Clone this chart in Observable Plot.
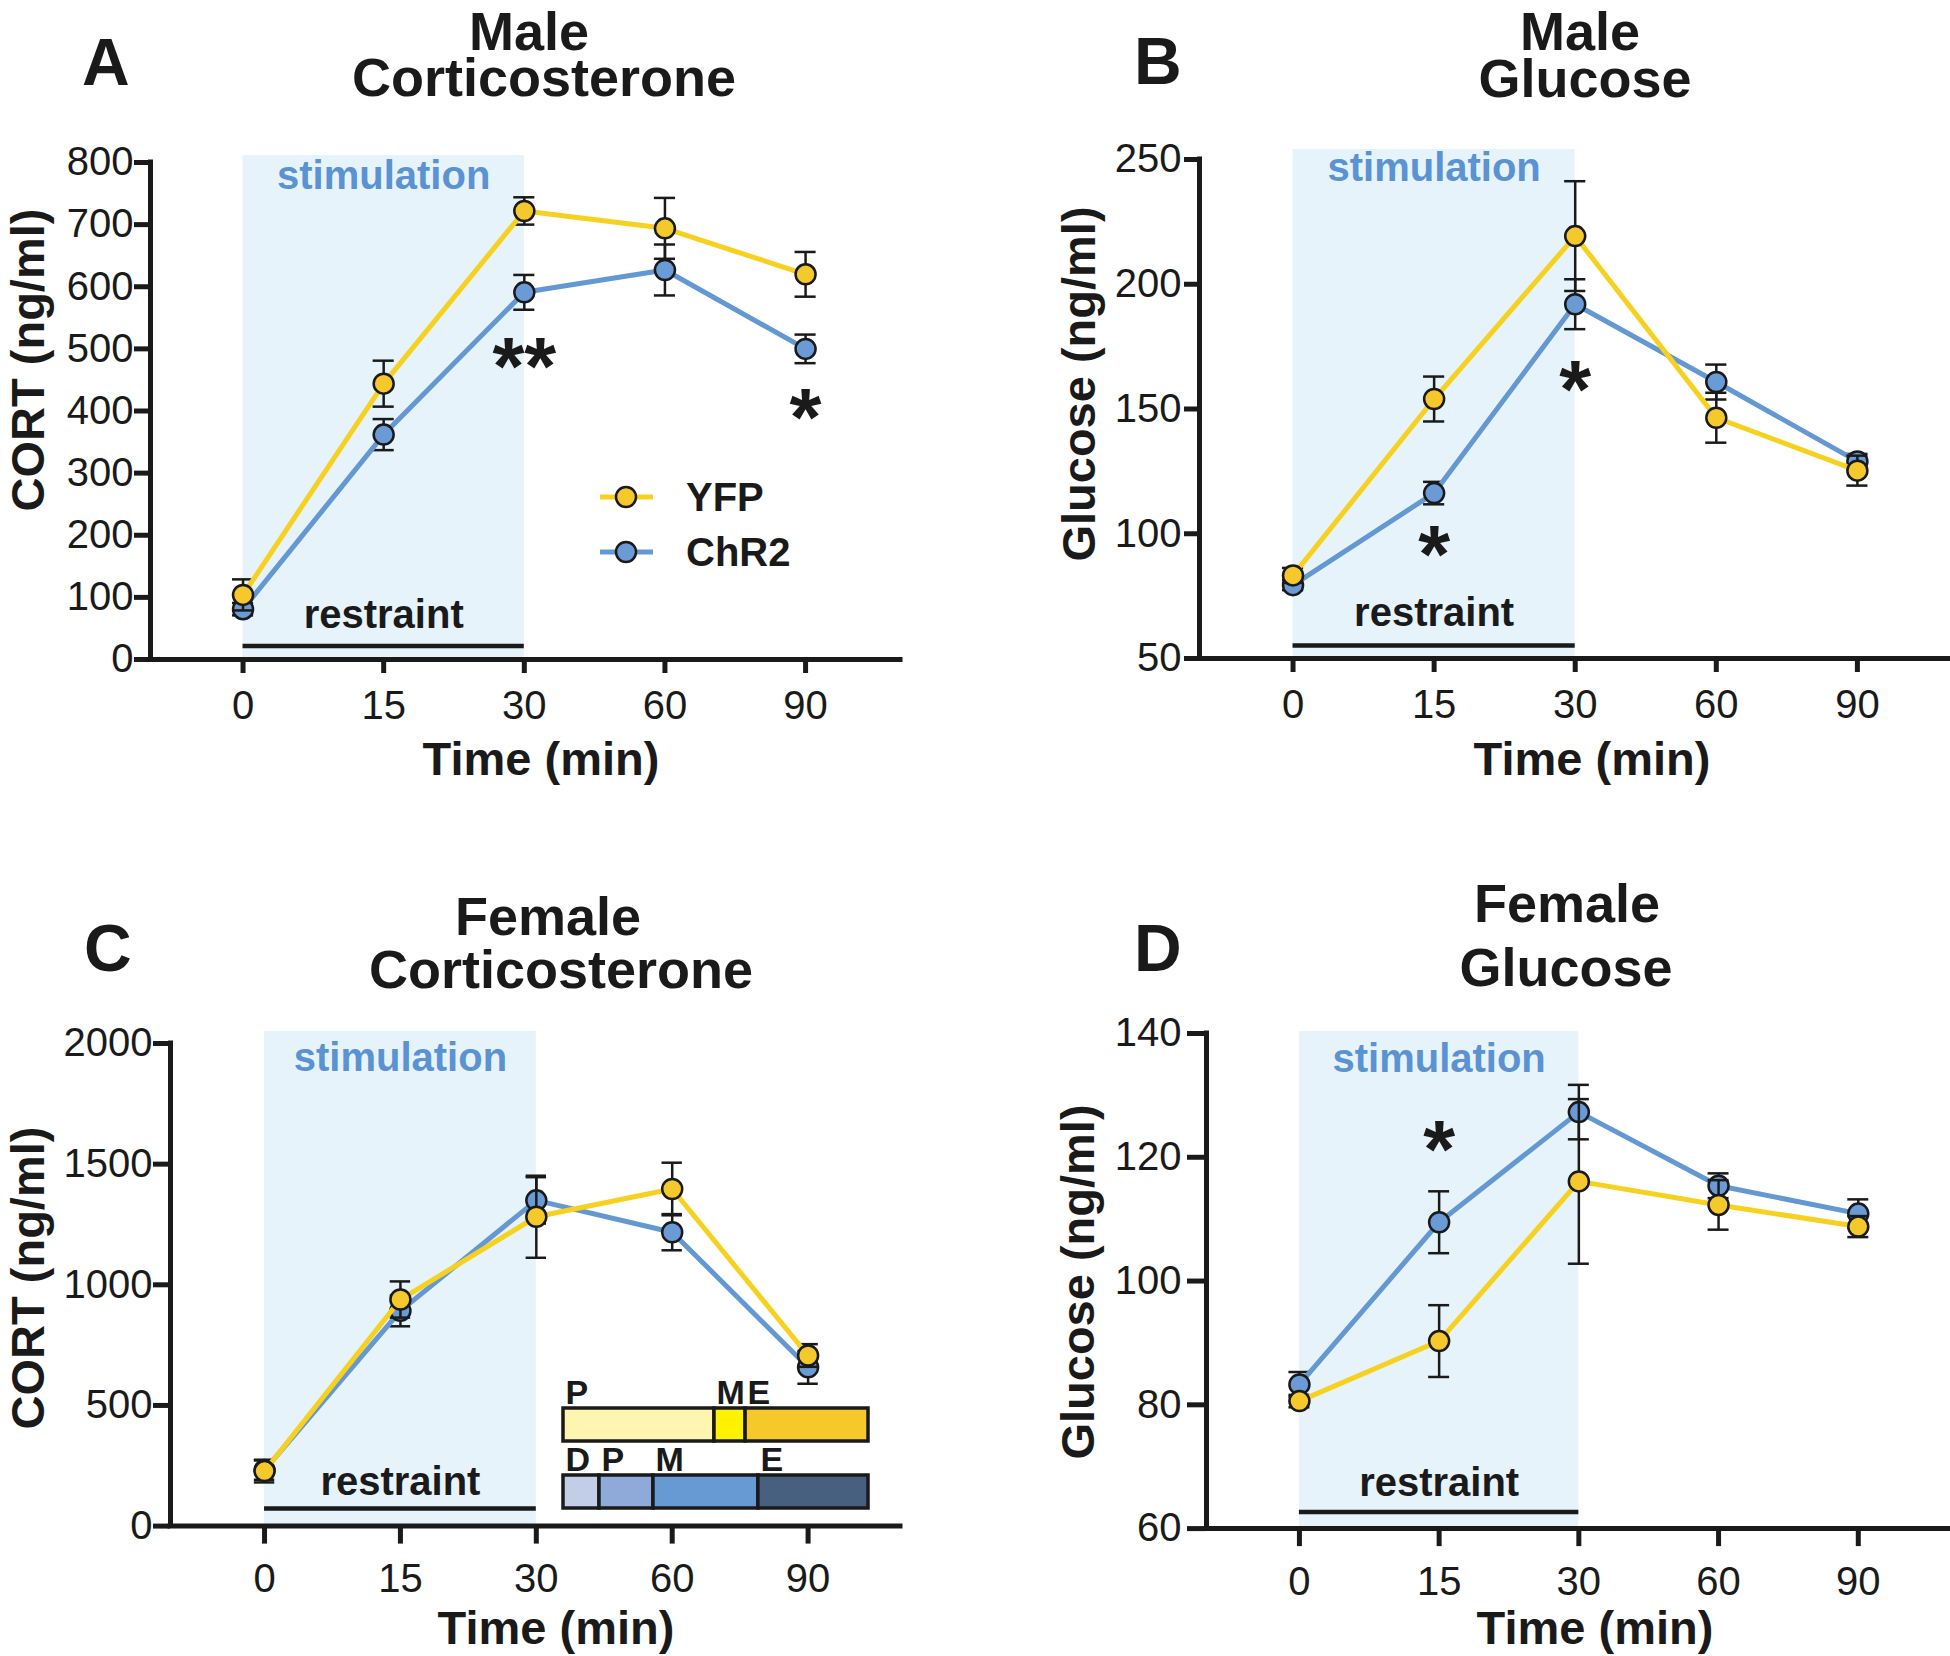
<!DOCTYPE html>
<html><head><meta charset="utf-8">
<script src="https://cdn.jsdelivr.net/npm/d3@7"></script>
<script src="https://cdn.jsdelivr.net/npm/@observablehq/plot@0.6"></script>
<style>
body{margin:0;background:#fff;}
#fig{position:relative;width:1950px;height:1656px;background:#fff;overflow:hidden;}
#fig > *{position:absolute;}
</style></head><body><div id="fig"></div>
<script>
// ---------- data ----------
const timeLabels = ["0", "15", "30", "60", "90"];

const maleCortYFP     = [104, 444, 722, 694, 620];
const maleCortYFPErr  = [25, 37, 22, 49, 36];
const maleCortChR2    = [81, 362, 591, 627, 500];
const maleCortChR2Err = [10, 25, 28, 41, 23];

const maleGluYFP      = [83.3, 154, 219.3, 146.5, 125.3];
const maleGluYFPErr   = [3, 9, 22, 10, 6];
const maleGluChR2     = [79.4, 116.3, 192, 160.8, 129];
const maleGluChR2Err  = [2, 4.5, 10, 7, 3];

const femCortYFP      = [228, 939, 1282, 1397, 707];
const femCortYFPErr   = [47, 75, 170, 109, 47];
const femCortChR2     = [232, 892, 1350, 1218, 658];
const femCortChR2Err  = [40, 64, 96, 75, 68];

const femGluYFP       = [80.6, 90.3, 116.1, 112.3, 108.8];
const femGluYFPErr    = [1, 5.8, 13.3, 4, 1.7];
const femGluChR2      = [83.3, 109.5, 127.3, 115.4, 110.9];
const femGluChR2Err   = [2, 5, 4.4, 2, 2.3];

// significance marks (time index, value, label)
const maleCortSigIdx = [2, 4], maleCortSigY = [486, 403], maleCortSigText = ["**", "*"];
const maleGluSigIdx  = [1, 2], maleGluSigY  = [94.9, 161.4], maleGluSigText = ["*", "*"];
const femGluSigIdx   = [1],    femGluSigY   = [122.6],       femGluSigText  = ["*"];

// estrous phase distribution (inset in panel C)
const yfpPhases  = ["P", "M", "E"];
const yfpShare   = [0.495, 0.102, 0.403];
const chr2Phases = ["D", "P", "M", "E"];
const chr2Share  = [0.118, 0.177, 0.344, 0.361];

// ---------- styles ----------
const INK = "#1a1a1a";
const yfpLine = "#f6d11f", yfpDot = "#f5c82c";
const chrLine = "#6398d3", chrDot = "#6b9bd6";
const shade = "#e6f3fb", stimColor = "#5a92d2";
const yfpPhaseColors  = ["#fdf5b0", "#fff200", "#f5c92a"];
const chr2PhaseColors = ["#c2cee7", "#8eaad8", "#6799d2", "#48607f"];
const FONT = "'Liberation Sans', Arial, Helvetica, sans-serif";

const fig = document.getElementById("fig");

function panel(cfg) {
  const mk = (v, e) => timeLabels.map((t, i) => ({i, v: v[i], e: e[i]}));
  const yfp = mk(cfg.yfp, cfg.yfpErr), chr = mk(cfg.chr, cfg.chrErr);
  const capHalf = 0.075;
  const y0 = cfg.yDomain[0];
  const mT = 60, mB = 80, mL = 150, mR = 10;
  const frameH = cfg.yBottom - cfg.yTop;
  const marks = [
    Plot.rect([0], {x1: 0, x2: 2, y1: y0, y2: cfg.shadeTop, fill: shade}),
    Plot.ruleY([y0], {x1: 0, x2: 2, dy: -cfg.barOff, stroke: INK, strokeWidth: 4.5}),
    Plot.text(["stimulation"], {x: 1, y: cfg.stimY, text: d => d, fill: stimColor, fontWeight: "bold", fontSize: 40, lineAnchor: "bottom"}),
    Plot.text(["restraint"], {x: 1, y: y0, dy: -cfg.restOff, text: d => d, fill: INK, fontWeight: "bold", fontSize: 40, lineAnchor: "bottom"})
  ];
  for (const [d, lc, dc] of [[chr, chrLine, chrDot], [yfp, yfpLine, yfpDot]]) {
    marks.push(Plot.ruleX(d, {x: "i", y1: p => p.v - p.e, y2: p => p.v + p.e, stroke: INK, strokeWidth: 2.5}));
    marks.push(Plot.ruleY(d, {y: p => p.v + p.e, x1: p => p.i - capHalf, x2: p => p.i + capHalf, stroke: INK, strokeWidth: 2.5}));
    marks.push(Plot.ruleY(d, {y: p => p.v - p.e, x1: p => p.i - capHalf, x2: p => p.i + capHalf, stroke: INK, strokeWidth: 2.5}));
    marks.push(Plot.line(d, {x: "i", y: "v", stroke: lc, strokeWidth: 5}));
    marks.push(Plot.dot(d, {x: "i", y: "v", r: 10, fill: dc, stroke: INK, strokeWidth: 2.5}));
  }
  if (cfg.sigIdx) {
    const sig = cfg.sigIdx.map((i, k) => ({i, y: cfg.sigY[k], t: cfg.sigText[k]}));
    marks.push(Plot.text(sig, {x: "i", y: "y", text: "t", fontSize: 82, fontWeight: "bold", fill: INK, lineAnchor: "bottom", dy: 36}));
  }
  marks.push(Plot.axisY({ticks: cfg.yTicks, tickFormat: d3.format("d"), tickSize: cfg.yTS, tickPadding: cfg.yTP, strokeWidth: 5, fontSize: 40, label: null}));
  marks.push(Plot.axisX({ticks: [0, 1, 2, 3, 4], tickFormat: i => timeLabels[i], tickSize: cfg.xTS, tickPadding: cfg.xTP, strokeWidth: 5, fontSize: 40, label: null}));
  marks.push(Plot.ruleX([cfg.xDomain[0]], {stroke: INK, strokeWidth: 5, strokeLinecap: "square"}));
  marks.push(Plot.ruleY([y0], {stroke: INK, strokeWidth: 5, strokeLinecap: "square"}));
  const svg = Plot.plot({
    width: mL + cfg.frameW + mR,
    height: mT + frameH + mB,
    marginTop: mT, marginBottom: mB, marginLeft: mL, marginRight: mR,
    x: {domain: cfg.xDomain},
    y: {domain: cfg.yDomain},
    style: {fontFamily: FONT, fontSize: "40px", color: INK, background: "transparent", overflow: "visible"},
    marks
  });
  svg.style.left = (cfg.yAxisX - mL) + "px";
  svg.style.top = (cfg.yTop - mT) + "px";
  fig.appendChild(svg);
}

panel({yfp: maleCortYFP, yfpErr: maleCortYFPErr, chr: maleCortChR2, chrErr: maleCortChR2Err,
  yDomain: [0, 800], yTicks: d3.range(0, 801, 100), xDomain: [-0.658, 4.675],
  yAxisX: 150, yTop: 162, yBottom: 659, frameW: 750,
  shadeTop: 811, stimY: 758, barOff: 13.5, restOff: 32,
  yTS: 16, yTP: 1, xTS: 14, xTP: 17,
  sigIdx: maleCortSigIdx, sigY: maleCortSigY, sigText: maleCortSigText});

panel({yfp: maleGluYFP, yfpErr: maleGluYFPErr, chr: maleGluChR2, chrErr: maleGluChR2Err,
  yDomain: [50, 250], yTicks: [50, 100, 150, 200, 250], xDomain: [-0.663, 4.66],
  yAxisX: 1199, yTop: 159, yBottom: 658, frameW: 751,
  shadeTop: 254, stimY: 241.2, barOff: 13, restOff: 33,
  yTS: 15, yTP: 3, xTS: 14, xTP: 17,
  sigIdx: maleGluSigIdx, sigY: maleGluSigY, sigText: maleGluSigText});

panel({yfp: femCortYFP, yfpErr: femCortYFPErr, chr: femCortChR2, chrErr: femCortChR2Err,
  yDomain: [0, 2000], yTicks: [0, 500, 1000, 1500, 2000], xDomain: [-0.692, 4.68],
  yAxisX: 170, yTop: 1043, yBottom: 1525.6, frameW: 730,
  shadeTop: 2050, stimY: 1884, barOff: 17.6, restOff: 30.6,
  yTS: 17, yTP: 1, xTS: 18, xTP: 19});

panel({yfp: femGluYFP, yfpErr: femGluYFPErr, chr: femGluChR2, chrErr: femGluChR2Err,
  yDomain: [60, 140], yTicks: [60, 80, 100, 120, 140], xDomain: [-0.665, 4.66],
  yAxisX: 1206, yTop: 1032.5, yBottom: 1527.6, frameW: 744,
  shadeTop: 140.3, stimY: 133.8, barOff: 16.6, restOff: 32.6,
  yTS: 19, yTP: 6, xTS: 18, xTP: 20,
  sigIdx: femGluSigIdx, sigY: femGluSigY, sigText: femGluSigText});

// ---------- estrous phase inset (panel C) ----------
function phaseRows(group, phases, shares, colors) {
  let acc = 0;
  return phases.map((p, k) => {
    const r = {group, phase: p, x1: acc, x2: acc + shares[k], color: colors[k]};
    acc += shares[k];
    return r;
  });
}
const rows = [...phaseRows("YFP", yfpPhases, yfpShare, yfpPhaseColors),
              ...phaseRows("ChR2", chr2Phases, chr2Share, chr2PhaseColors)];
const inset = Plot.plot({
  width: 320, height: 140, marginLeft: 8, marginRight: 7, marginTop: 33, marginBottom: 7,
  x: {domain: [0, 1], axis: null},
  y: {type: "band", domain: ["YFP", "ChR2"], paddingInner: 0.5075, paddingOuter: 0, axis: null},
  color: {type: "identity"},
  style: {fontFamily: FONT, fontSize: "34px", background: "transparent", overflow: "visible"},
  marks: [
    Plot.barX(rows, {x1: "x1", x2: "x2", y: "group", fill: "color", stroke: INK, strokeWidth: 3.5}),
    Plot.text(rows, {x: "x1", y: "group", text: "phase", textAnchor: "start", dx: 2, dy: -21, lineAnchor: "bottom", fontSize: 34, fontWeight: "bold", fill: INK})
  ]
});
inset.style.left = "555px";
inset.style.top = "1375px";
fig.appendChild(inset);

// ---------- titles, axis labels, legend ----------
const ov = d3.create("svg").attr("width", 1950).attr("height", 1656)
  .style("left", "0px").style("top", "0px").style("pointer-events", "none")
  .attr("font-family", FONT).attr("font-weight", "bold").attr("fill", INK);
const T = (txt, x, y, size, anchor = "middle", rot = 0) =>
  ov.append("text").attr("transform", `translate(${x},${y}) rotate(${rot})`)
    .attr("text-anchor", anchor).attr("font-size", size).text(txt);

T("A", 82, 85, 66, "start");
T("Male", 529, 50, 54); T("Corticosterone", 544, 96, 54);
T("CORT (ng/ml)", 44, 360, 47, "middle", -90);
T("Time (min)", 541, 775, 47);

T("B", 1134, 84, 66, "start");
T("Male", 1580, 50, 54); T("Glucose", 1585, 97, 54);
T("Glucose (ng/ml)", 1095, 384, 47, "middle", -90);
T("Time (min)", 1592, 775, 47);

T("C", 84, 971, 66, "start");
T("Female", 548, 935, 54); T("Corticosterone", 561, 988, 54);
T("CORT (ng/ml)", 44, 1278, 47, "middle", -90);
T("Time (min)", 556, 1644, 47);

T("D", 1134, 971, 66, "start");
T("Female", 1567, 922, 54); T("Glucose", 1566, 986, 54);
T("Glucose (ng/ml)", 1094, 1282, 47, "middle", -90);
T("Time (min)", 1595, 1644, 47);

// legend (panel A)
[["YFP", yfpLine, yfpDot, 497], ["ChR2", chrLine, chrDot, 552]].forEach(([name, lc, dc, y]) => {
  ov.append("line").attr("x1", 600).attr("x2", 653).attr("y1", y).attr("y2", y).attr("stroke", lc).attr("stroke-width", 5);
  ov.append("circle").attr("cx", 626).attr("cy", y).attr("r", 10).attr("fill", dc).attr("stroke", INK).attr("stroke-width", 2.5);
  ov.append("text").attr("x", 686).attr("y", y + 14).attr("font-size", 40).text(name);
});
fig.appendChild(ov.node());
</script></body></html>
